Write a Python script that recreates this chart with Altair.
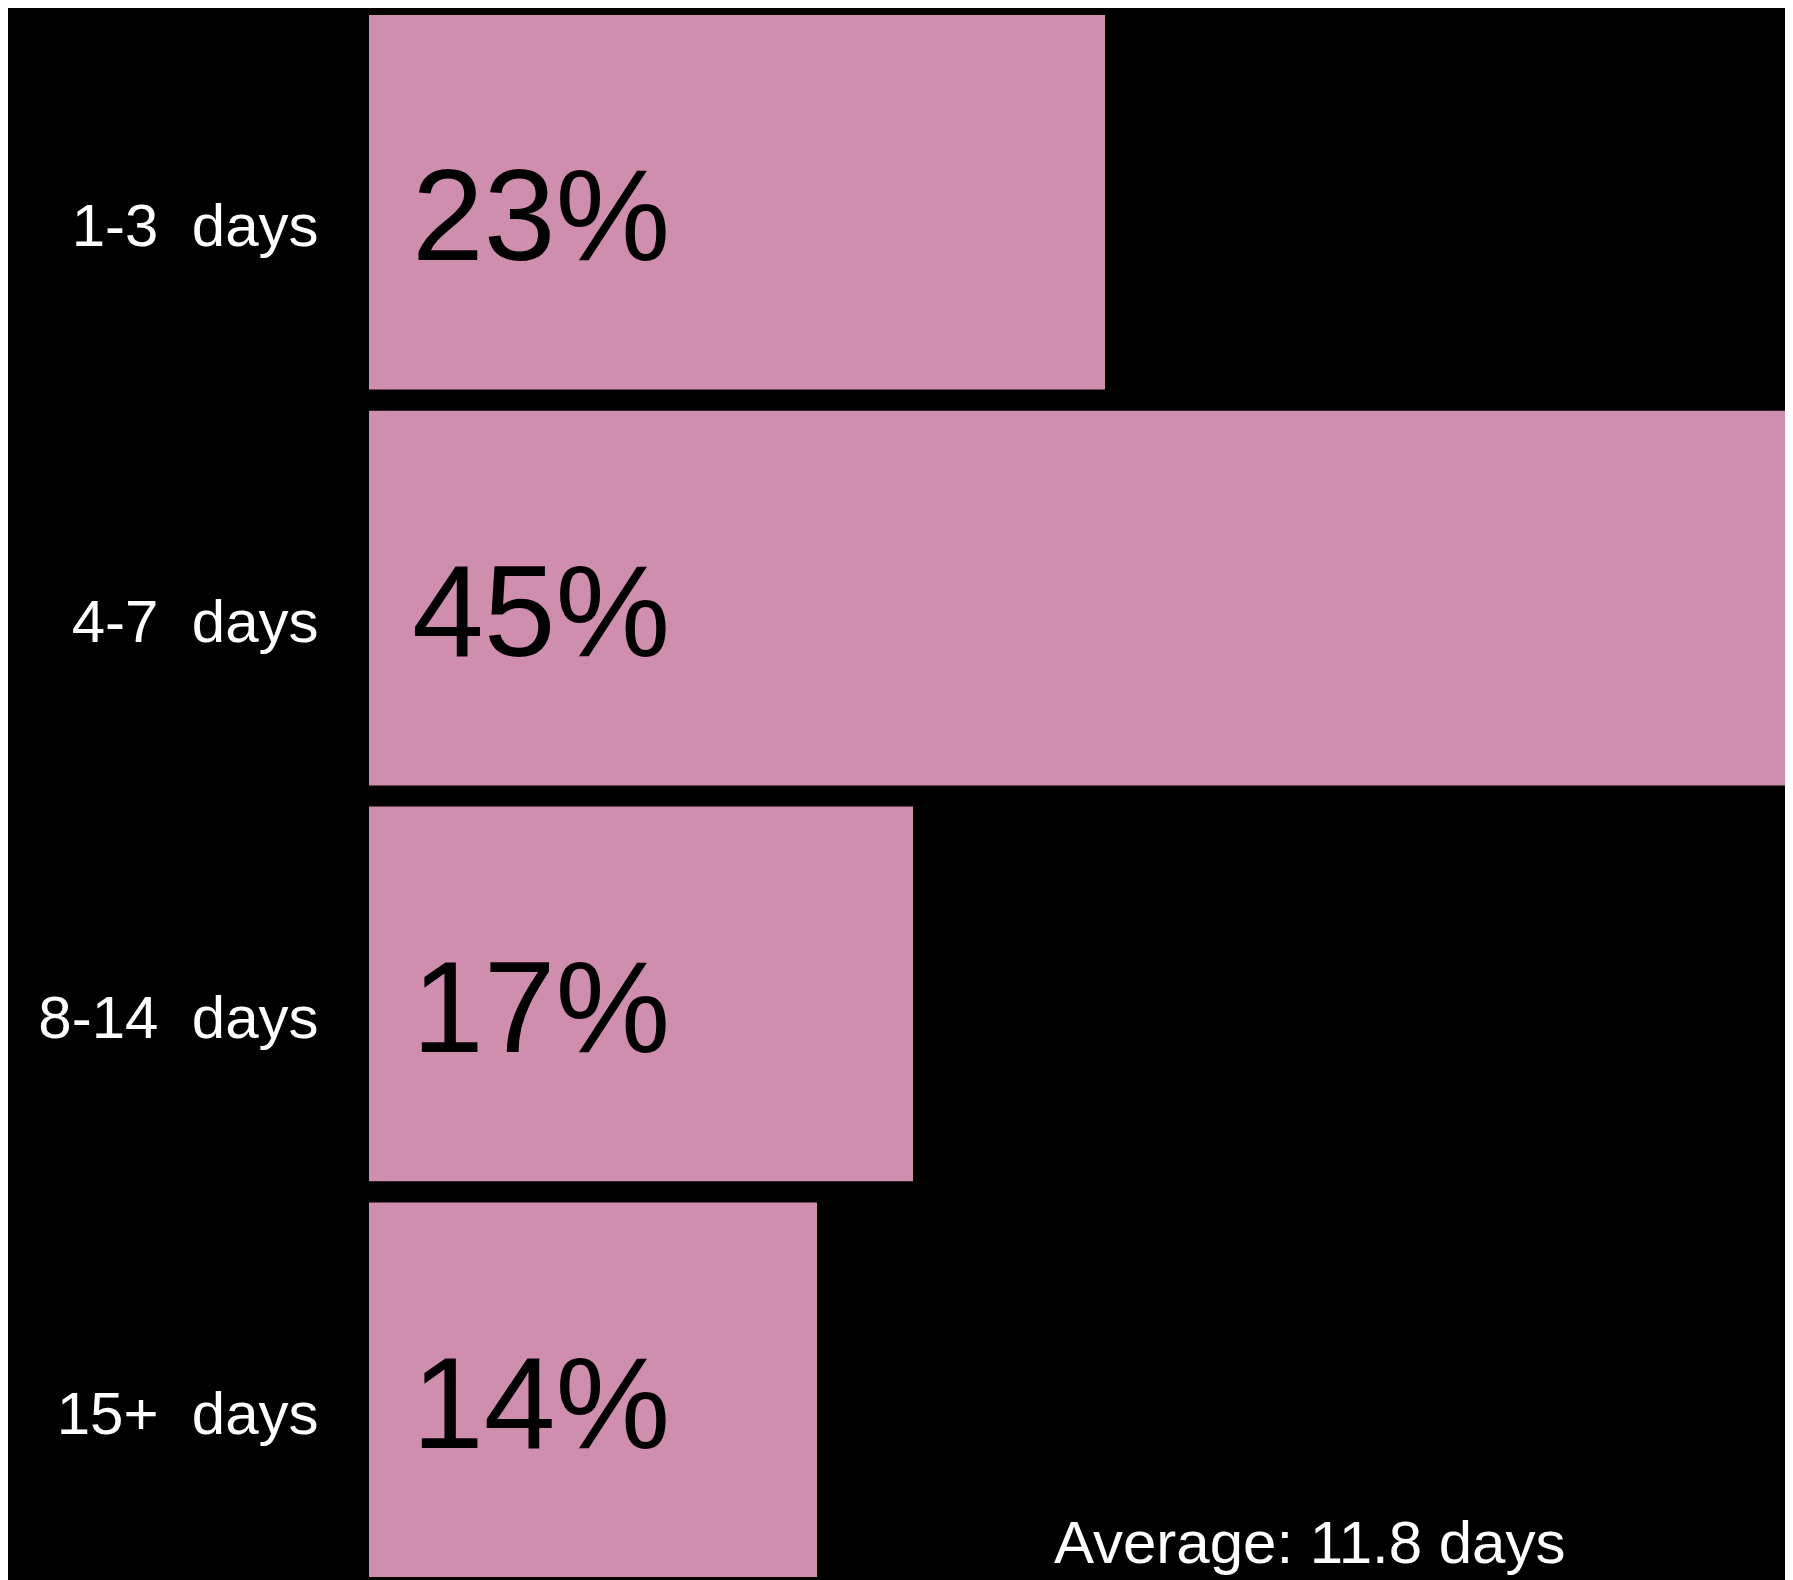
import altair as alt
import pandas as pd

# ---- data ----
categories = ["1-3\u00a0 days", "4-7\u00a0 days", "8-14\u00a0 days", "15+\u00a0 days"]
values = [23, 45, 17, 14]
value_labels = ["23%", "45%", "17%", "14%"]
average_days = 11.8

df = pd.DataFrame({"cat": categories, "val": values, "lbl": value_labels})
avg_df = pd.DataFrame({"t": [f"Average: {average_days} days"]})

FONT = "Liberation Sans"
BAR = "#CF8EAE"

y_enc = alt.Y(
    "cat:N",
    sort=categories,
    title=None,
    scale=alt.Scale(paddingInner=0.0536, paddingOuter=0),
    axis=alt.Axis(
        domain=False,
        ticks=False,
        grid=False,
        labelColor="white",
        labelFont=FONT,
        labelFontSize=60,
        labelAlign="right",
        labelBaseline="alphabetic",
        labelPadding=51,
        labelOffset=44,
        labelLimit=0,
    ),
)

base = alt.Chart(df)

bars = base.mark_bar(color=BAR, clip=True).encode(
    x=alt.X("val:Q", scale=alt.Scale(domain=[0, 44.25], nice=False, zero=True), axis=None),
    y=y_enc,
)

pct = base.mark_text(
    align="left", baseline="alphabetic", dx=43, dy=58,
    fontSize=129, font=FONT, color="black",
).encode(
    x=alt.value(0),
    y=alt.Y("cat:N", sort=categories),
    text="lbl:N",
)

avg = alt.Chart(avg_df).mark_text(
    align="left", baseline="alphabetic", fontSize=60, font=FONT, color="white",
).encode(
    x=alt.value(685),
    y=alt.value(1548),
    text="t:N",
)

chart = (
    alt.layer(bars, pct, avg)
    .properties(
        width=1416,
        height=1562,
        autosize=alt.AutoSizeParams(type="none"),
        padding={"left": 361, "top": 7, "right": 0, "bottom": 3},
    )
    .configure(background="#000000")
    .configure_view(stroke=None)
)

chart.save("out.html", embed_options={"renderer": "svg", "actions": False})
